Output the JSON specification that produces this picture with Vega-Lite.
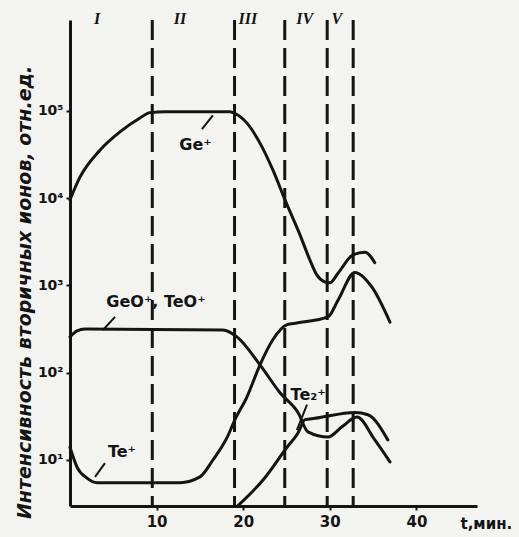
{
  "$schema": "https://vega.github.io/schema/vega-lite/v6.json",
  "width": 407,
  "height": 486,
  "autosize": {"type": "none"},
  "padding": {"left": 70, "top": 20, "right": 42, "bottom": 31},
  "background": "#f3f3ef",
  "config": {"view": {"stroke": null}, "font": "DejaVu Sans"},
  "datasets": {
    "curves": [
      {"series": "Ge+", "t": 0, "v": 9600},
      {"series": "Ge+", "t": 1.15, "v": 17400},
      {"series": "Ge+", "t": 3.46, "v": 35500},
      {"series": "Ge+", "t": 5.77, "v": 57500},
      {"series": "Ge+", "t": 8.08, "v": 83000},
      {"series": "Ge+", "t": 9.24, "v": 95500},
      {"series": "Ge+", "t": 11.0, "v": 97700},
      {"series": "Ge+", "t": 18.48, "v": 97700},
      {"series": "Ge+", "t": 18.82, "v": 95500},
      {"series": "Ge+", "t": 20.44, "v": 72400},
      {"series": "Ge+", "t": 21.94, "v": 42700},
      {"series": "Ge+", "t": 23.44, "v": 20900},
      {"series": "Ge+", "t": 24.83, "v": 9550},
      {"series": "Ge+", "t": 26.56, "v": 3800},
      {"series": "Ge+", "t": 27.71, "v": 1950},
      {"series": "Ge+", "t": 28.5, "v": 1320},
      {"series": "Ge+", "t": 29.4, "v": 1100},
      {"series": "Ge+", "t": 30.0, "v": 1070},
      {"series": "Ge+", "t": 30.95, "v": 1380},
      {"series": "Ge+", "t": 32.68, "v": 2240},
      {"series": "Ge+", "t": 34.06, "v": 2400},
      {"series": "Ge+", "t": 35.2, "v": 1820},
      {"series": "GeO+", "t": 0, "v": 257},
      {"series": "GeO+", "t": 0.81, "v": 302},
      {"series": "GeO+", "t": 1.7, "v": 316},
      {"series": "GeO+", "t": 17.67, "v": 309},
      {"series": "GeO+", "t": 19.28, "v": 257},
      {"series": "GeO+", "t": 21.94, "v": 123},
      {"series": "GeO+", "t": 24.25, "v": 59},
      {"series": "GeO+", "t": 26.33, "v": 35},
      {"series": "GeO+", "t": 27.48, "v": 21},
      {"series": "GeO+", "t": 29.8, "v": 18.3},
      {"series": "GeO+", "t": 31.41, "v": 24},
      {"series": "GeO+", "t": 33.14, "v": 31},
      {"series": "GeO+", "t": 35.2, "v": 17},
      {"series": "GeO+", "t": 36.95, "v": 9.5},
      {"series": "Te+", "t": 0, "v": 14},
      {"series": "Te+", "t": 0.81, "v": 8.3},
      {"series": "Te+", "t": 1.96, "v": 6.2},
      {"series": "Te+", "t": 3.12, "v": 5.5},
      {"series": "Te+", "t": 12.7, "v": 5.5},
      {"series": "Te+", "t": 15.0, "v": 6.4},
      {"series": "Te+", "t": 16.5, "v": 10},
      {"series": "Te+", "t": 18.13, "v": 18},
      {"series": "Te+", "t": 19.05, "v": 29},
      {"series": "Te+", "t": 20.44, "v": 53},
      {"series": "Te+", "t": 21.94, "v": 123},
      {"series": "Te+", "t": 23.44, "v": 240},
      {"series": "Te+", "t": 25.06, "v": 355},
      {"series": "Te+", "t": 26.2, "v": 372},
      {"series": "Te+", "t": 29.8, "v": 437},
      {"series": "Te+", "t": 30.95, "v": 676},
      {"series": "Te+", "t": 32.9, "v": 1410},
      {"series": "Te+", "t": 34.87, "v": 955},
      {"series": "Te+", "t": 36.95, "v": 380},
      {"series": "Te2+", "t": 19.4, "v": 3},
      {"series": "Te2+", "t": 22.29, "v": 5.9},
      {"series": "Te2+", "t": 25.06, "v": 14},
      {"series": "Te2+", "t": 26.33, "v": 20.4},
      {"series": "Te2+", "t": 27.14, "v": 29},
      {"series": "Te2+", "t": 28.3, "v": 30},
      {"series": "Te2+", "t": 32.9, "v": 35},
      {"series": "Te2+", "t": 34.4, "v": 33},
      {"series": "Te2+", "t": 36.7, "v": 17}
    ],
    "dividers": [
      {"t": 9.5}, {"t": 19.0}, {"t": 24.8}, {"t": 29.7}, {"t": 32.7}
    ],
    "leaders": [
      {"t": 15.24, "v": 61700, "t2": 16.5, "v2": 89000},
      {"t": 3.81, "v": 309, "t2": 5.2, "v2": 437},
      {"t": 2.89, "v": 6.4, "t2": 4.04, "v2": 9.2},
      {"t": 26.2, "v": 22, "t2": 27.37, "v2": 43}
    ],
    "labels": [
      {"t": 14.5, "v": 40700, "label": "Ge⁺"},
      {"t": 9.93, "v": 646, "label": "GeO⁺, TeO⁺"},
      {"t": 6.0, "v": 12.4, "label": "Te⁺"},
      {"t": 27.5, "v": 55.6, "label": "Te₂⁺"}
    ],
    "numerals": [
      {"t": 3.12, "v": 1100000, "label": "I"},
      {"t": 12.7, "v": 1100000, "label": "II"},
      {"t": 20.55, "v": 1100000, "label": "III"},
      {"t": 27.1, "v": 1100000, "label": "IV"},
      {"t": 30.8, "v": 1100000, "label": "V"}
    ]
  },
  "layer": [
    {
      "data": {"name": "curves"},
      "mark": {"type": "line", "interpolate": "monotone", "color": "#141414", "strokeWidth": 3, "strokeCap": "round", "strokeJoin": "round"},
      "encoding": {
        "x": {
          "field": "t", "type": "quantitative",
          "scale": {"domain": [0, 47], "nice": false, "zero": false},
          "axis": {
            "values": [10, 20, 30, 40], "grid": false,
            "domainWidth": 3, "domainColor": "#141414",
            "tickColor": "#141414", "tickSize": 4, "tickWidth": 2,
            "labelFontSize": 15, "labelFontWeight": "bold", "labelColor": "#141414", "labelPadding": 4,
            "title": "t,мин.", "titleX": 390, "titleY": 17, "titleAlign": "left", "titleBaseline": "middle",
            "titleFontSize": 15, "titleFontWeight": "bold", "titleColor": "#141414"
          }
        },
        "y": {
          "field": "v", "type": "quantitative",
          "scale": {"type": "log", "domain": [2.97, 1100000], "nice": false},
          "axis": {
            "values": [10, 100, 1000, 10000, 100000], "grid": false,
            "labelExpr": "datum.value == 10 ? '10¹' : datum.value == 100 ? '10²' : datum.value == 1000 ? '10³' : datum.value == 10000 ? '10⁴' : '10⁵'",
            "domainWidth": 3, "domainColor": "#141414",
            "tickColor": "#141414", "tickSize": 4, "tickWidth": 2,
            "labelFontSize": 14, "labelFontWeight": "bold", "labelColor": "#141414", "labelPadding": 3,
            "title": "Интенсивность вторичных ионов, отн.ед.",
            "titleX": -46, "titleY": 272, "titleAngle": 270, "titleAlign": "center", "titleBaseline": "middle",
            "titleFontSize": 19, "titleFontWeight": "bold", "titleFontStyle": "italic", "titleColor": "#141414"
          }
        },
        "detail": {"field": "series"}
      }
    },
    {
      "data": {"name": "dividers"},
      "mark": {"type": "rule", "strokeDash": [20, 8], "strokeWidth": 3, "color": "#141414"},
      "encoding": {"x": {"field": "t", "type": "quantitative"}}
    },
    {
      "data": {"name": "leaders"},
      "mark": {"type": "rule", "strokeWidth": 2, "color": "#141414"},
      "encoding": {
        "x": {"field": "t", "type": "quantitative"},
        "y": {"field": "v", "type": "quantitative"},
        "x2": {"field": "t2"},
        "y2": {"field": "v2"}
      }
    },
    {
      "data": {"name": "labels"},
      "mark": {"type": "text", "fontSize": 16, "fontWeight": "bold", "color": "#141414", "align": "center", "baseline": "middle"},
      "encoding": {
        "x": {"field": "t", "type": "quantitative"},
        "y": {"field": "v", "type": "quantitative"},
        "text": {"field": "label"}
      }
    },
    {
      "data": {"name": "numerals"},
      "mark": {"type": "text", "font": "Liberation Serif", "fontSize": 16, "fontWeight": "bold", "fontStyle": "italic", "color": "#141414", "align": "center", "baseline": "bottom", "dy": 7},
      "encoding": {
        "x": {"field": "t", "type": "quantitative"},
        "y": {"field": "v", "type": "quantitative"},
        "text": {"field": "label"}
      }
    }
  ]
}
